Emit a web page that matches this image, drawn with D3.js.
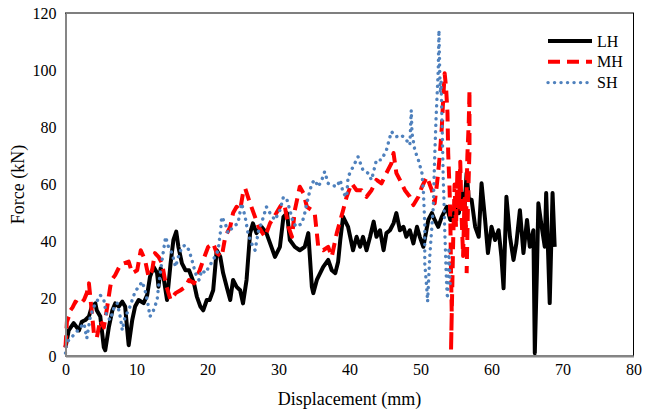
<!DOCTYPE html>
<html>
<head>
<meta charset="utf-8">
<script src="https://cdn.jsdelivr.net/npm/d3@7"></script>
<style>
  body { margin: 0; background: #fff; }
  text { font-family: "Liberation Serif", "Times New Roman", serif; fill: #000; }
</style>
</head>
<body>
<svg id="chart" width="646" height="415"></svg>
<script>
// ----- Data (displacement mm, force kN) -----
const lhData = [
  [0,3],[0.45,9],[1.15,11.5],[1.9,9],[2.3,12],[2.8,12.6],[3.3,13.8],[3.7,17.3],[4.2,18.4],[4.4,16],
  [4.9,13.8],[5.4,3],[5.6,2],[6.1,10],[6.6,16],[7,18.4],[7.5,17.3],[8,19],[8.4,17.3],[8.7,9],
  [8.9,3.8],[9.4,12.6],[9.8,17.3],[10.3,19.6],[11,18.5],[11.5,21.3],[11.9,27.7],[12.4,31.2],[12.9,29],[13.1,24.2],
  [13.4,30.7],[13.8,27.7],[14.3,19.6],[14.8,32.4],[15.2,40.6],[15.6,43.5],[15.9,38.2],[16.4,32.4],[16.9,30],[17.4,30],
  [18.1,25.4],[18.5,20.8],[19,17.3],[19.4,16],[19.9,19.6],[20.3,19.6],[20.8,23],[21.3,37],[21.8,34.7],[22.2,29],
  [22.7,24.2],[23.2,19.6],[23.6,26.6],[24.1,24.2],[24.6,23],[25,18.4],[25.5,26.6],[26,43],[26.4,46.4],[26.9,43],
  [27.6,45.2],[28.3,43],[29,38.2],[29.5,34.7],[30.2,38.2],[30.7,48.7],[31.2,50],[31.6,40.6],[32.3,38.2],[33,37],
  [33.7,38.2],[34.2,43],[34.7,24.2],[34.9,22],[35.4,26.6],[36.3,31.2],[37,33.6],[37.5,30],[38,29],[38.4,33],
  [38.7,40.6],[39.1,48.7],[39.8,45.2],[40.5,37],[41,41.7],[41.5,38.2],[41.9,41.7],[42.4,37],[42.9,41.7],[43.4,47],
  [43.8,41.7],[44.3,44],[44.8,37],[45.2,43],[45.7,44],[46.2,46.4],[46.6,50],[47.1,44],[47.6,45.2],[48,41.7],
  [48.5,44],[49,39.4],[49.5,45.2],[49.9,41.7],[50.4,38.2],[51.1,47.6],[51.6,50],[52,47.6],[52.5,45.2],[53,48.7],
  [53.7,52.2],[54.2,47.6],[54.6,47.6],[54.9,53.4],[55.4,50],[55.8,57],[56.2,52],[56.5,64],[56.8,55],[57.2,54.6],
  [57.7,45.2],[58.2,41.7],[58.6,60.4],[59.1,47.6],[59.5,36],[60,45.2],[60.5,40.6],[61,44],[61.4,34.7],[61.7,23.7],
  [62.1,55.7],[62.6,41.7],[63.1,33.6],[63.5,39.4],[64,51],[64.5,36],[65,47.6],[65.4,38.2],[65.9,44],[66.1,1],
  [66.4,30],[66.6,53.4],[67,46.4],[67.5,38.2],[67.7,57],[68.2,18.5],[68.6,57],[68.9,38.2]
];

const mhData = [
  [0,3],[0.2,12],[0.5,14],[0.7,16],[1,17],[1.4,19],[2,18],[2.6,19.6],[3,22],[3.3,25.4],
  [3.6,18],[4,8],[4.4,6.3],[4.9,12.6],[5.4,10],[5.8,16],[6.3,24.2],[6.5,26.6],[7,28.3],[7.7,31.8],
  [8.2,32.4],[8.9,33],[9.4,29],[10.1,30],[10.6,37],[11.2,33.6],[11.7,27.7],[12.2,30],[12.6,36],[13.1,34.7],
  [13.6,32.4],[14.1,25.4],[14.8,19.6],[15.5,22],[16.2,23],[16.9,24.2],[17.4,26.6],[18.1,25.4],[18.9,30],[19.4,33.6],
  [20.1,38.2],[20.8,39.4],[21.3,36],[22,34.7],[22.5,41.7],[23.2,45.2],[23.6,50],[24.1,52.2],[24.6,51],[25,57],
  [25.3,58.7],[26,53.4],[26.5,50],[27.2,45.2],[28.1,41.7],[28.8,46.4],[29.7,50],[30.5,53.4],[30.9,52.2],[31.4,45.2],
  [31.9,41.7],[32.3,51],[33,59.2],[33.5,57],[34,52.2],[34.7,51],[35.1,50],[35.6,38.2],[36.3,37],[37,38.2],
  [37.5,34.7],[38.2,42.9],[39.1,51],[39.6,55.7],[40.3,60.4],[41,58],[41.7,58],[42.4,55.7],[43.1,58],[43.8,61.6],
  [44.5,60.4],[45.2,64],[45.9,67.4],[46.2,71],[46.6,64],[47.1,61.6],[47.8,58],[48.5,55.7],[49,52.8],[49.7,55.7],
  [50.2,59.2],[50.9,62.7],[51.6,58],[52,53.4],[52.4,62],[52.7,69.7],[53,80],[53.2,90],[53.4,98.9],[53.6,94],
  [53.8,85],[53.9,71],[54.1,58],[54.2,47.6],[54.3,30],[54.4,15],[54.3,2],[54.6,40],[54.8,60],[55,45],
  [55.2,65],[55.4,52],[55.6,68],[55.8,48],[56,35],[56.2,55],[56.4,45],[56.6,70],[56.8,82],[56.9,93],
  [56.9,72],[56.7,55],[56.5,29]
];

const shData = [
  [0,1],[0.1,3.3],[0.45,5.6],[1.15,7.3],[2.1,10],[2.6,11.4],[3,6.2],[3.5,13.8],[4,17.3],[4.4,19],
  [4.9,21.3],[5.4,19.6],[5.8,13.8],[6.3,12.6],[6.8,16.7],[7.3,18.4],[7.7,13.8],[8,9],[8.4,13.8],[8.9,16],
  [9.4,19.6],[9.8,22.5],[10.3,24.2],[10.8,26],[11.2,23],[11.6,18.4],[11.9,13.8],[12.4,16],[12.9,19.6],[13.1,24.2],
  [13.6,33.6],[14.1,41.7],[14.5,38.2],[15,36],[15.5,31.2],[15.9,34.7],[16.4,38.2],[16.9,38.8],[17.4,37],[17.8,33.6],
  [18.3,29],[18.8,26.6],[19.2,30],[19.7,29],[20.2,31.2],[20.8,33.6],[21.5,37],[21.8,43],[22,48.7],[22.5,46.4],
  [22.9,43],[23.6,45.2],[24.3,46.4],[24.8,53.4],[25.3,48.7],[25.7,43],[26.2,39.4],[26.7,37],[27.2,44],[27.6,46.4],
  [28.3,52.2],[28.8,50],[29.5,47.6],[30.2,51],[30.7,55.7],[31.2,54.6],[31.6,51],[32.1,46.4],[32.6,45.2],[33.3,46.4],
  [33.7,50],[34.2,55.7],[34.7,60.4],[35.1,61.6],[35.6,59.2],[36.1,61.6],[36.5,64.5],[37,60.4],[37.5,59.8],[38.2,59.2],
  [38.7,61.6],[39.1,57],[39.6,55.7],[39.8,62.7],[40.5,66.2],[41.2,69.7],[41.9,65],[42.6,64],[43.1,61.6],[43.8,68.6],
  [44.5,68.6],[45.2,72],[45.9,78.5],[46.6,76.7],[47.3,77.3],[48,75.6],[48.5,73.8],[48.7,86],[48.8,78],[49.2,72],
  [49.7,68.6],[50.2,64],[50.4,58],[50.6,46.4],[50.6,32.4],[50.9,23],[51,19],[51.3,34.7],[51.8,52.2],[52,69.7],
  [52.2,83.7],[52.5,100],[52.6,114],[52.7,100],[52.8,92],[52.9,96],[53,85],[53.1,75],[53.2,62],[53.3,55],
  [53.4,45],[53.5,38],[53.6,30],[53.7,24],[53.8,20],[53.9,28],[54,38],[54.1,30],[54.2,24]
];

const xTicks = [0, 10, 20, 30, 40, 50, 60, 70, 80];
const yTicks = [0, 20, 40, 60, 80, 100, 120];

const serif = '"Liberation Serif", "Times New Roman", serif';

const series = [
  { name: "LH", data: lhData, color: "#000000", dash: null, width: 4, cap: "butt" },
  { name: "MH", data: mhData, color: "#ff0000", dash: "12,7", width: 4, cap: "butt" },
  { name: "SH", data: shData, color: "#4f81bd", dash: "0.1,6.4", width: 3.4, cap: "round" }
];

// ----- Layout -----
const plot = { left: 65.5, right: 633.5, top: 13, bottom: 356 };

const svg = d3.select("#chart");

const x = d3.scaleLinear().domain([0, 80]).range([plot.left, plot.right]);
const y = d3.scaleLinear().domain([0, 120]).range([plot.bottom, plot.top]);

// plot area frame
svg.append("rect")
  .attr("x", plot.left)
  .attr("y", plot.top)
  .attr("width", plot.right - plot.left)
  .attr("height", plot.bottom - plot.top)
  .attr("fill", "none")
  .attr("stroke", "#000")
  .attr("stroke-width", 1);

// ----- Series -----
const line = d3.line().x(d => x(d[0])).y(d => y(d[1]));

series.forEach(s => {
  svg.append("path")
    .datum(s.data)
    .attr("fill", "none")
    .attr("stroke", s.color)
    .attr("stroke-width", s.width)
    .attr("stroke-linejoin", "round")
    .attr("stroke-linecap", s.cap)
    .attr("stroke-dasharray", s.dash)
    .attr("d", line);
});

// ----- Axes -----
const xAxis = svg.append("g")
  .attr("transform", `translate(0,${plot.bottom})`)
  .call(d3.axisBottom(x).tickValues(xTicks).tickSize(0).tickPadding(8));

const yAxis = svg.append("g")
  .attr("transform", `translate(${plot.left},0)`)
  .call(d3.axisLeft(y).tickValues(yTicks).tickSize(0).tickPadding(9));

[xAxis, yAxis].forEach(g => {
  g.attr("font-family", serif).attr("font-size", 16);
  g.select(".domain").attr("stroke", "#868686").attr("stroke-width", 2);
  g.selectAll("text").attr("fill", "#000");
});

// axis titles
svg.append("text")
  .attr("text-anchor", "middle")
  .attr("x", (plot.left + plot.right) / 2)
  .attr("y", 405)
  .style("font-size", "18px")
  .text("Displacement (mm)");

svg.append("text")
  .attr("text-anchor", "middle")
  .attr("transform", "rotate(-90)")
  .attr("x", -(plot.top + plot.bottom) / 2)
  .attr("y", 24)
  .style("font-size", "18px")
  .text("Force (kN)");

// ----- Legend -----
const legend = svg.append("g").attr("transform", "translate(548,41)");

series.forEach((s, i) => {
  const row = legend.append("g").attr("transform", `translate(0,${i * 20.8})`);
  row.append("line")
    .attr("x1", 0).attr("x2", 44)
    .attr("y1", 0).attr("y2", 0)
    .attr("stroke", s.color)
    .attr("stroke-width", s.width)
    .attr("stroke-linecap", s.cap)
    .attr("stroke-dasharray", s.dash);
  row.append("text")
    .attr("x", 49)
    .attr("y", 5.5)
    .style("font-size", "16px")
    .text(s.name);
});
</script>
</body>
</html>
